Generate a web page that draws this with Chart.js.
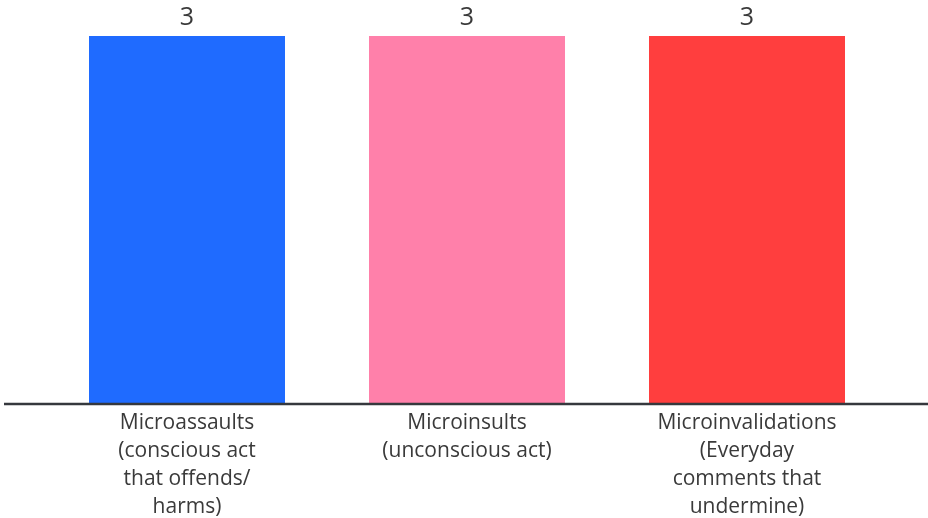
<!DOCTYPE html>
<html>
<head>
<meta charset="utf-8">
<script src="https://cdn.jsdelivr.net/npm/chart.js@4/dist/chart.umd.min.js"></script>
<style>
  html, body { margin: 0; padding: 0; background: #ffffff; }
  #wrap { width: 928px; height: 518px; position: relative; }
</style>
</head>
<body>
<div id="wrap"><canvas id="c"></canvas></div>
<script>
// Categories (multi-line labels) and counts
const categories = [
  ['Microassaults', '(conscious act', 'that offends/', 'harms)'],
  ['Microinsults', '(unconscious act)'],
  ['Microinvalidations', '(Everyday', 'comments that', 'undermine)']
];
const counts = [3, 3, 3];
const barColors = ['#1f6bff', '#ff80aa', '#ff3e3e'];

const FONT = '"Open Sans", "Liberation Sans", sans-serif';
const TEXT = '#3a3a3a';

// Value labels above bars + full-width baseline
const extras = {
  id: 'extras',
  afterDatasetsDraw(chart) {
    const ctx = chart.ctx;
    const meta = chart.getDatasetMeta(0);
    ctx.save();
    ctx.fillStyle = TEXT;
    ctx.font = '25px ' + FONT;
    ctx.textAlign = 'center';
    ctx.textBaseline = 'bottom';
    meta.data.forEach((bar, i) => {
      ctx.fillText(String(counts[i]), bar.x, bar.y - 6);
    });
    const y = chart.scales.x.top + 1;
    ctx.strokeStyle = '#35383d';
    ctx.lineWidth = 2.5;
    ctx.beginPath();
    ctx.moveTo(4, y);
    ctx.lineTo(chart.width, y);
    ctx.stroke();
    ctx.restore();
  }
};

new Chart(document.getElementById('c'), {
  type: 'bar',
  data: {
    labels: categories,
    datasets: [{
      data: counts,
      backgroundColor: barColors,
      borderWidth: 0,
      categoryPercentage: 0.7,
      barPercentage: 1.0
    }]
  },
  options: {
    responsive: true,
    maintainAspectRatio: false,
    animation: false,
    layout: { padding: { left: 47, right: 41, top: 36, bottom: 0 } },
    plugins: { legend: { display: false }, tooltip: { enabled: false } },
    scales: {
      x: {
        grid: { display: false, drawTicks: false },
        border: { display: false },
        ticks: {
          color: TEXT,
          font: { family: FONT, size: 21, lineHeight: 1.33 },
          padding: 6,
          maxRotation: 0,
          autoSkip: false
        },
        afterFit(scale) { scale.height = 115; }
      },
      y: {
        display: false,
        min: 0,
        max: 3
      }
    }
  },
  plugins: [extras]
});
</script>
</body>
</html>
